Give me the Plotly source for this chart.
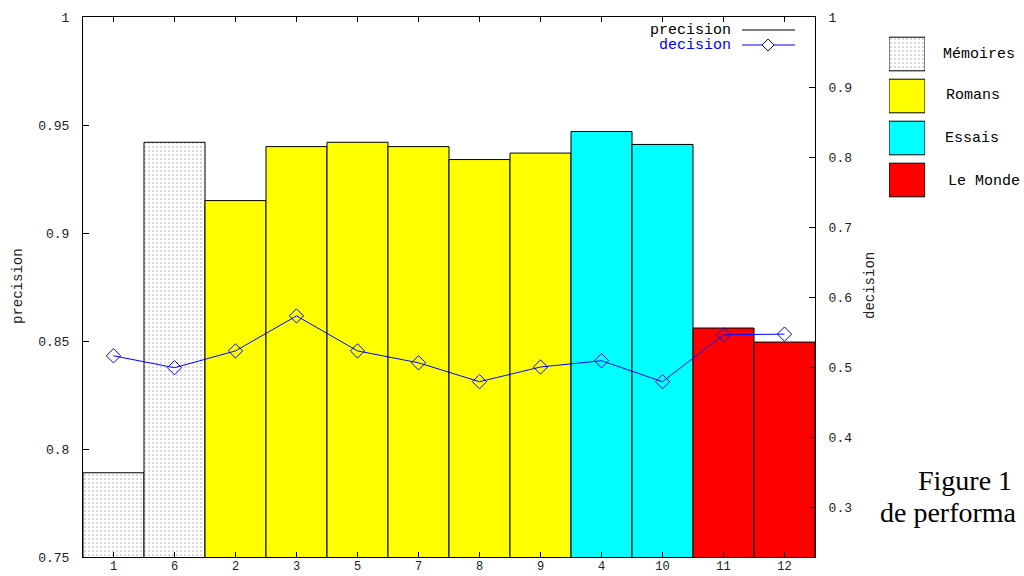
import plotly.graph_objects as go

W, H = 1024, 576
def px(x): return x / W
def py(y): return 1 - y / H

# ---- data ----
categories = ["1", "6", "2", "3", "5", "7", "8", "9", "4", "10", "11", "12"]
groups = ["Mémoires"] * 2 + ["Romans"] * 6 + ["Essais"] * 2 + ["Le Monde"] * 2
precision = [0.789, 0.942, 0.915, 0.940, 0.942, 0.940, 0.934, 0.937, 0.947, 0.941, 0.856, 0.8495]
decision = [0.516, 0.499, 0.523, 0.573, 0.523, 0.506, 0.479, 0.500, 0.509, 0.479, 0.546, 0.547]
group_names = ["Mémoires", "Romans", "Essais", "Le Monde"]
group_colors = {"Mémoires": "#ffffff", "Romans": "#ffff00", "Essais": "#00ffff", "Le Monde": "#ff0000"}
group_patterns = {"Mémoires": ".", "Romans": "", "Essais": "", "Le Monde": ""}
left_ticks = [0.75, 0.8, 0.85, 0.9, 0.95, 1.0]
left_ticktext = ["0.75", "0.8", "0.85", "0.9", "0.95", "1"]
right_ticks = [0.3, 0.4, 0.5, 0.6, 0.7, 0.8, 0.9, 1.0]
right_ticktext = ["0.3", "0.4", "0.5", "0.6", "0.7", "0.8", "0.9", "1"]
caption = ["Figure 1", "de performa"]

MONO = "Liberation Mono"
TXT = "#222222"

fig = go.Figure()

bar_colors = [group_colors[g] for g in groups]
bar_patterns = [group_patterns[g] for g in groups]
fig.add_trace(go.Bar(
    x=categories, y=precision, width=1.0,
    marker=dict(color=bar_colors, line=dict(color="black", width=1),
                pattern=dict(shape=bar_patterns, fgcolor="black", bgcolor=bar_colors,
                             size=4, solidity=0.12)),
    showlegend=False, xaxis="x", yaxis="y"))

fig.add_trace(go.Scatter(
    x=categories, y=decision, mode="lines+markers",
    line=dict(color="#0000ff", width=1),
    marker=dict(symbol="diamond-open", size=11, color="#0000ff", line=dict(width=1, color="#0000ff")),
    showlegend=False, xaxis="x", yaxis="y2"))

# right-hand group legend boxes (drawn from group list)
fig.add_trace(go.Bar(
    x=[1] * len(group_names), y=group_names, orientation="h", width=0.8,
    marker=dict(color=[group_colors[g] for g in group_names], line=dict(color="black", width=1),
                pattern=dict(shape=[group_patterns[g] for g in group_names], fgcolor="black",
                             bgcolor=[group_colors[g] for g in group_names], size=4, solidity=0.12)),
    showlegend=False, xaxis="x3", yaxis="y3", hoverinfo="skip"))

axis_font = dict(family=MONO, size=13, color=TXT)

fig.update_layout(
    width=W, height=H,
    margin=dict(l=0, r=0, t=0, b=0),
    paper_bgcolor="white", plot_bgcolor="white",
    xaxis=dict(domain=[px(83), px(815)], type="category", categoryorder="array",
               categoryarray=categories, range=[-0.5, len(categories) - 0.5],
               showline=True, linecolor="black", linewidth=1, mirror="ticks",
               ticks="inside", ticklen=5, tickcolor="black", showgrid=False,
               tickfont=dict(family=MONO, size=12, color=TXT), ticklabelstandoff=-2,
               automargin=False, anchor="y"),
    yaxis=dict(domain=[py(557), py(17)], range=[0.75, 1.0], tickvals=left_ticks,
               ticktext=left_ticktext, showline=True, linecolor="black", linewidth=1,
               ticks="inside", ticklen=6, tickcolor="black", showgrid=False, zeroline=False,
               tickfont=axis_font, ticklabelstandoff=10, automargin=False, anchor="x"),
    yaxis2=dict(domain=[py(557), py(17)], range=[0.2286, 1.0], tickvals=right_ticks,
                ticktext=right_ticktext, overlaying="y", side="right", showline=True,
                linecolor="black", linewidth=1, ticks="inside", ticklen=6, tickcolor="black",
                showgrid=False, zeroline=False, tickfont=axis_font, ticklabelstandoff=10,
                automargin=False, anchor="x"),
    xaxis3=dict(domain=[px(889), px(925)], range=[0, 1], visible=False, anchor="y3"),
    yaxis3=dict(domain=[py(201), py(33)], type="category", categoryorder="array",
                categoryarray=group_names, range=[len(group_names) - 0.5, -0.5],
                visible=False, anchor="x3"),
    showlegend=False,
)

title_font = dict(family=MONO, size=14, color=TXT)
leg_font = 15
ann = []
def add_text(x, y, text, font, xanchor="left", angle=0):
    ann.append(dict(x=px(x), y=py(y), xref="paper", yref="paper", text=text,
                    xanchor=xanchor, yanchor="middle", textangle=angle,
                    showarrow=False, font=font))

# axis titles
add_text(18, 286, "precision", title_font, "center", -90)
add_text(870, 286, "decision", title_font, "center", -90)
# inside legend
add_text(733, 30, "precision", dict(family=MONO, size=leg_font, color="black"), "right")
add_text(733, 45, "decision", dict(family=MONO, size=leg_font, color="#0000ff"), "right")
# group legend labels
label_y = [54, 96, 138, 181]
label_x = [941, 944, 943, 946]
for name, lx, ly in zip(group_names, label_x, label_y):
    add_text(lx, ly, name, dict(family=MONO, size=leg_font, color="black"))
# caption
serif = dict(family="Liberation Serif", size=28, color="black")
add_text(916, 480, caption[0], serif)
add_text(878, 512, caption[1], serif)
fig.update_layout(annotations=ann)

# inside legend line samples
cx, cy, d = 768, 45, 6
shapes = [
    dict(type="line", xref="paper", yref="paper", x0=px(742), x1=px(795), y0=py(30), y1=py(30),
         line=dict(color="black", width=1)),
    dict(type="line", xref="paper", yref="paper", x0=px(742), x1=px(795), y0=py(45), y1=py(45),
         line=dict(color="#0000ff", width=1)),
    dict(type="path", xref="paper", yref="paper",
         path=f"M {px(cx-d)},{py(cy)} L {px(cx)},{py(cy-d)} L {px(cx+d)},{py(cy)} L {px(cx)},{py(cy+d)} Z",
         fillcolor="white", line=dict(color="#0000ff", width=1)),
]
fig.update_layout(shapes=shapes)

fig.write_html("out.html", config={"displayModeBar": False},
               post_script="document.body.style.margin='0';document.body.style.overflow='hidden';")
